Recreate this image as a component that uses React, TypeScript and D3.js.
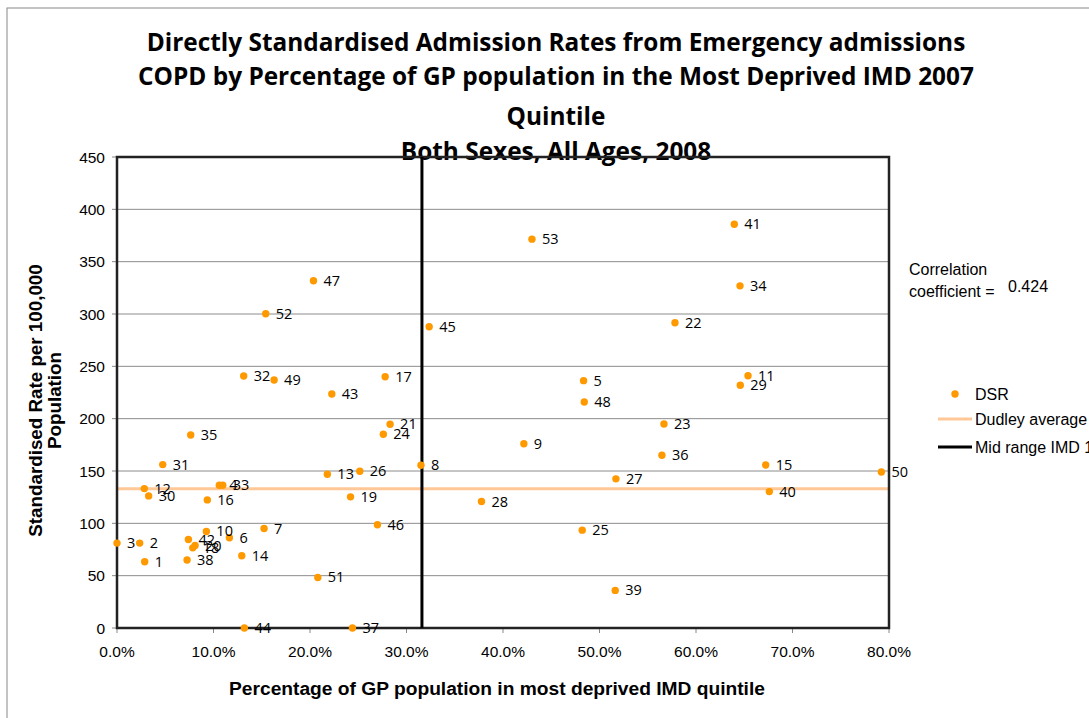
import React from "react";
import * as d3 from "d3";

const gpIds = [
  1, 2, 3, 4, 5, 6, 7, 8, 9, 10, 11, 12, 13, 14, 15, 16, 17, 18, 19, 20, 21, 22, 23, 24, 25, 26, 27,
  28, 29, 30, 31, 32, 33, 34, 35, 36, 37, 38, 39, 40, 41, 42, 43, 44, 45, 46, 47, 48, 49, 50, 51, 52, 53,
];
const pctDeprived = [
  2.87, 2.35, 0.0, 10.6, 48.35, 11.65, 15.24, 31.5, 42.16, 9.26, 65.39, 2.83, 21.8, 12.93, 67.22, 9.36,
  27.79, 7.85, 24.2, 8.09, 28.3, 57.82, 56.68, 27.6, 48.21, 25.16, 51.7, 37.77, 64.59, 3.28, 4.74, 13.13,
  10.96, 64.56, 7.64, 56.47, 24.4, 7.26, 51.63, 67.6, 63.97, 7.4, 22.26, 13.2, 32.35, 26.99, 20.36, 48.42,
  16.28, 79.21, 20.81, 15.41, 43.0,
];
const dsrValues = [
  63.3, 81.1, 81.1, 136.4, 236.3, 86.2, 95.0, 155.5, 176.1, 92.2, 241.0, 133.2, 146.9, 69.0, 155.8, 122.4,
  240.1, 76.6, 125.3, 78.8, 194.7, 291.6, 194.9, 185.1, 93.5, 149.8, 142.5, 120.8, 231.9, 126.2, 156.1,
  240.7, 136.4, 326.9, 184.4, 165.1, 0, 64.9, 35.9, 130.3, 385.8, 84.5, 223.6, 0, 287.8, 98.6, 331.7,
  215.9, 236.9, 149.1, 48.3, 300.2, 371.5,
];
const dudleyAverage = 133;
const midRangeIMD = 31.6;
const yTicks = [0, 50, 100, 150, 200, 250, 300, 350, 400, 450];
const xTicks = [0, 10, 20, 30, 40, 50, 60, 70, 80];
const titleLines = [
  "Directly Standardised Admission Rates from Emergency admissions",
  "COPD by Percentage of GP population in the Most Deprived IMD 2007",
  "Quintile",
  "Both Sexes, All Ages, 2008",
];
const titleBaselines = [51, 85, 125, 160];
const correlation = "0.424";

const W = 1089;
const H = 718;
const plot = { left: 117, right: 889, top: 157, bottom: 628 };
const ORANGE = "#FF9900";
const DUDLEY = "#FFC896";
const AXISFONT = "'Liberation Sans', Arial, sans-serif";
const LABELFONT = "'Open Sans', 'Noto Sans', sans-serif";

export default function App() {
  const x = d3.scaleLinear().domain([0, 80]).range([plot.left, plot.right]);
  const y = d3.scaleLinear().domain([0, 450]).range([plot.bottom, plot.top]);
  const points = gpIds.map((id, i) => ({ id, px: x(pctDeprived[i]), py: y(dsrValues[i]) }));
  const cy = (plot.top + plot.bottom) / 2;

  return (
    <div style={{ position: "absolute", left: 0, top: 0 }}>
      <svg width={W} height={H} style={{ display: "block", background: "#fff" }}>
        <rect x={7} y={8} width={1200} height={800} fill="#fff" stroke="#888" strokeWidth={1} />

        {titleLines.map((t, i) => (
          <text
            key={t}
            x={556}
            y={titleBaselines[i]}
            textAnchor="middle"
            fontFamily={LABELFONT}
            fontWeight="bold"
            fontSize={24.4}
            fill="#000"
          >
            {t}
          </text>
        ))}

        {/* gridlines */}
        {yTicks.map((t) => (
          <line key={"g" + t} x1={plot.left} x2={plot.right} y1={y(t)} y2={y(t)} stroke="#8c8c8c" strokeWidth={1} />
        ))}

        {/* dudley average */}
        <line x1={plot.left} x2={plot.right} y1={y(dudleyAverage)} y2={y(dudleyAverage)} stroke={DUDLEY} strokeWidth={3} />

        {/* y ticks */}
        {yTicks.map((t) => (
          <g key={"y" + t}>
            <line x1={plot.left - 5} x2={plot.left} y1={y(t)} y2={y(t)} stroke="#888" />
            <text x={105} y={y(t) + 5.5} textAnchor="end" fontFamily={AXISFONT} fontSize={15.5} fill="#000">
              {t}
            </text>
          </g>
        ))}
        {xTicks.map((t) => (
          <g key={"x" + t}>
            <line x1={x(t)} x2={x(t)} y1={plot.bottom} y2={plot.bottom + 5} stroke="#888" />
            <text x={x(t)} y={657} textAnchor="middle" fontFamily={AXISFONT} fontSize={15.5} fill="#000">
              {t.toFixed(1) + "%"}
            </text>
          </g>
        ))}

        {/* plot border */}
        <rect
          x={plot.left}
          y={plot.top}
          width={plot.right - plot.left}
          height={plot.bottom - plot.top}
          fill="none"
          stroke="#222"
          strokeWidth={2.5}
        />

        {/* mid range vertical */}
        <line x1={x(midRangeIMD)} x2={x(midRangeIMD)} y1={plot.top} y2={plot.bottom} stroke="#000" strokeWidth={3} />

        {/* points */}
        {points.map((p) => (
          <g key={"p" + p.id}>
            <circle cx={p.px} cy={p.py} r={3.7} fill={ORANGE} />
            <text x={p.px + 10} y={p.py + 5} fontFamily={LABELFONT} fontSize={14.5} fill="#000">
              {p.id}
            </text>
          </g>
        ))}

        {/* axis titles */}
        <text x={497} y={695} textAnchor="middle" fontFamily={AXISFONT} fontWeight="bold" fontSize={19.2} fill="#000">
          Percentage of GP population in most deprived IMD quintile
        </text>
        <text
          transform={`translate(42,${cy + 8}) rotate(-90)`}
          textAnchor="middle"
          fontFamily={AXISFONT}
          fontWeight="bold"
          fontSize={18.8}
          fill="#000"
        >
          Standardised Rate per 100,000
        </text>
        <text
          transform={`translate(61,${cy + 8}) rotate(-90)`}
          textAnchor="middle"
          fontFamily={AXISFONT}
          fontWeight="bold"
          fontSize={18.8}
          fill="#000"
        >
          Population
        </text>

        {/* correlation */}
        <text x={909} y={275} fontFamily={AXISFONT} fontSize={16} fill="#000">
          Correlation
        </text>
        <text x={909} y={297} fontFamily={AXISFONT} fontSize={16} fill="#000">
          coefficient =
        </text>
        <text x={1008} y={292} fontFamily={AXISFONT} fontSize={16} fill="#000">
          {correlation}
        </text>

        {/* legend */}
        <circle cx={955} cy={394} r={3.7} fill={ORANGE} />
        <text x={975} y={400} fontFamily={AXISFONT} fontSize={16} fill="#000">
          DSR
        </text>
        <line x1={938} x2={972} y1={419} y2={419} stroke={DUDLEY} strokeWidth={3} />
        <text x={975} y={425} fontFamily={AXISFONT} fontSize={16} fill="#000">
          Dudley average
        </text>
        <line x1={938} x2={972} y1={447} y2={447} stroke="#000" strokeWidth={3} />
        <text x={975} y={453} fontFamily={AXISFONT} fontSize={16} fill="#000">
          Mid range IMD 1st quintile
        </text>
      </svg>
    </div>
  );
}
